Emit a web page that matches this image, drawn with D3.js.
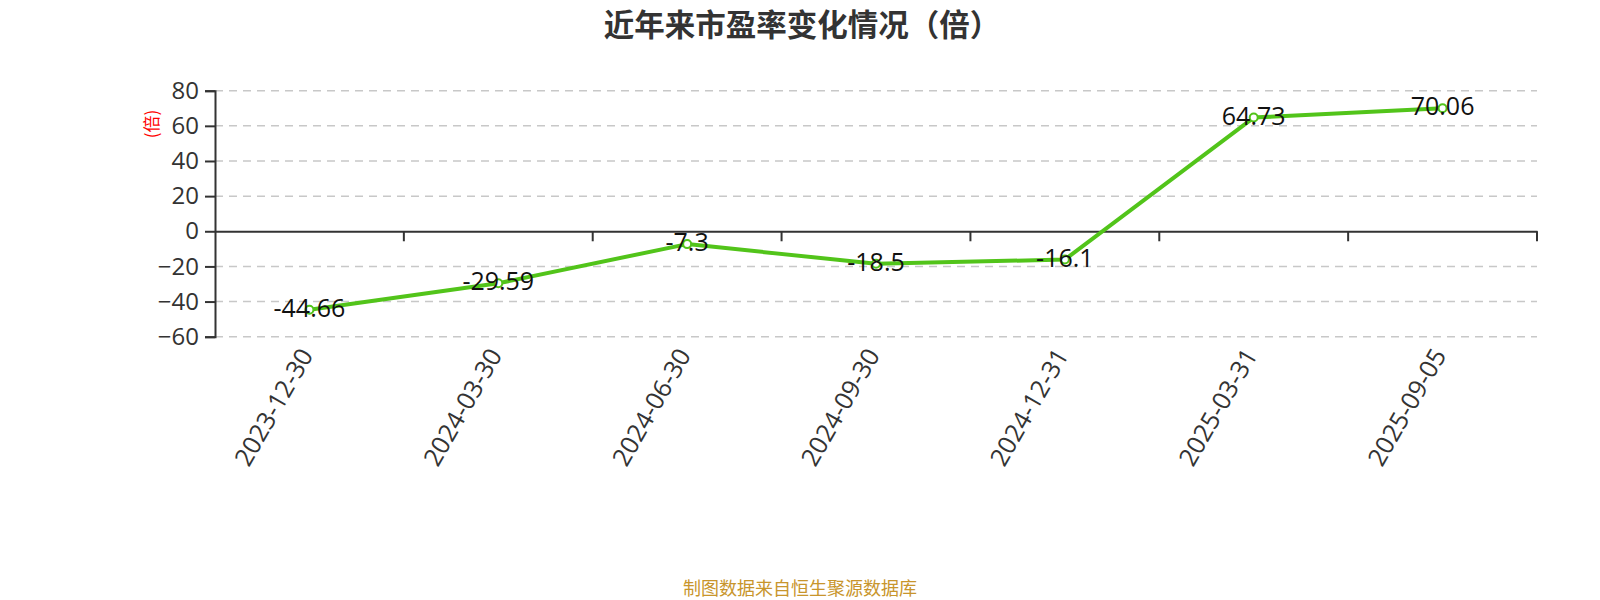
<!DOCTYPE html>
<html>
<head>
<meta charset="utf-8">
<script src="https://cdn.jsdelivr.net/npm/d3@7/dist/d3.min.js"></script>
<style>
  html, body { margin: 0; padding: 0; background: #fff; }
  svg { display: block; font-family: "Noto Sans", "Noto Sans CJK SC", sans-serif; }
</style>
</head>
<body>
<svg id="chart" width="1600" height="600"></svg>
<script>
const categories = ["2023-12-30", "2024-03-30", "2024-06-30", "2024-09-30", "2024-12-31", "2025-03-31", "2025-09-05"];
const peValues = [-44.66, -29.59, -7.3, -18.5, -16.1, 64.73, 70.06];
const peLabels = ["-44.66", "-29.59", "-7.3", "-18.5", "-16.1", "64.73", "70.06"];
const yTicks = [-60, -40, -20, 0, 20, 40, 60, 80];
const titleText = "近年来市盈率变化情况（倍）";
const yAxisName = "(倍)";
const footerText = "制图数据来自恒生聚源数据库";

const svg = d3.select("#chart");
const plotLeft = 215, plotRight = 1537, plotTop = 90.7, plotBottom = 336.7;

const x = d3.scaleBand().domain(categories).range([plotLeft, plotRight]);
const y = d3.scaleLinear().domain([-60, 80]).range([plotBottom, plotTop]);

// title
svg.append("text")
  .attr("x", 802).attr("y", 23)
  .attr("text-anchor", "middle").attr("dominant-baseline", "central")
  .attr("font-size", 30.5).attr("font-weight", "bold").attr("fill", "#333")
  .attr("font-family", "'Noto Sans CJK SC', sans-serif")
  .text(titleText);

// grid lines
svg.append("g").selectAll("line")
  .data(yTicks.filter(d => d !== 0))
  .join("line")
  .attr("x1", plotLeft).attr("x2", plotRight)
  .attr("y1", d => y(d)).attr("y2", d => y(d))
  .attr("stroke", "#c8c8c8").attr("stroke-width", 1.5)
  .attr("stroke-dasharray", "8,6");

// y axis
const yAxis = d3.axisLeft(y).tickValues(yTicks).tickSize(10).tickPadding(6).tickFormat(d3.format("d"));
const gy = svg.append("g").attr("transform", `translate(${plotLeft},0)`).call(yAxis);
gy.select(".domain").attr("stroke", "#333").attr("stroke-width", 2);
gy.selectAll(".tick line").attr("stroke", "#333").attr("stroke-width", 2);
gy.selectAll(".tick text").attr("font-size", 24).attr("fill", "#333")
  .attr("font-family", "'Open Sans', sans-serif");

// x axis at zero
const xAxis = d3.axisBottom(x).tickSize(0).tickFormat("");
const gx = svg.append("g").attr("transform", `translate(0,${y(0)})`).call(xAxis);
gx.select(".domain").attr("stroke", "#333").attr("stroke-width", 2);
// band boundary ticks
const boundaries = categories.slice(1).map(c => x(c)).concat([plotRight]);
svg.append("g").selectAll("line").data(boundaries).join("line")
  .attr("x1", d => d).attr("x2", d => d)
  .attr("y1", y(0)).attr("y2", y(0) + 10)
  .attr("stroke", "#333").attr("stroke-width", 2);

// x labels below chart bottom
svg.append("g").selectAll("text").data(categories).join("text")
  .attr("transform", d => `translate(${x(d) + x.bandwidth() / 2 - 3},${plotBottom + 14}) rotate(-60)`)
  .attr("text-anchor", "end").attr("dy", "0.35em")
  .attr("font-size", 25).attr("fill", "#333")
  .attr("font-family", "'Open Sans', sans-serif")
  .text(d => d);

// y axis name
svg.append("text")
  .attr("transform", `translate(150,124) rotate(-90)`)
  .attr("text-anchor", "middle").attr("dominant-baseline", "central")
  .attr("font-size", 17).attr("fill", "#ff0000")
  .attr("font-family", "'Noto Sans CJK SC', sans-serif")
  .text(yAxisName);

// line
const cx = d => x(d) + x.bandwidth() / 2;
const line = d3.line().x((d, i) => cx(categories[i])).y(d => y(d));
svg.append("path").datum(peValues)
  .attr("d", line).attr("fill", "none")
  .attr("stroke", "#52c41a").attr("stroke-width", 4)
  .attr("stroke-linejoin", "round");

svg.append("g").selectAll("circle").data(peValues).join("circle")
  .attr("cx", (d, i) => cx(categories[i])).attr("cy", d => y(d))
  .attr("r", 4).attr("fill", "#fff").attr("stroke", "#52c41a").attr("stroke-width", 2);

// data labels
svg.append("g").selectAll("text").data(peValues).join("text")
  .attr("x", (d, i) => cx(categories[i])).attr("y", d => y(d) - 3)
  .attr("text-anchor", "middle").attr("dominant-baseline", "central")
  .attr("font-size", 25).attr("fill", "#111")
  .attr("font-family", "'Open Sans', sans-serif")
  .text((d, i) => peLabels[i]);

// footer
svg.append("text")
  .attr("x", 800).attr("y", 587)
  .attr("text-anchor", "middle").attr("dominant-baseline", "central")
  .attr("font-size", 18).attr("fill", "#c8952c")
  .attr("font-family", "'Noto Sans CJK SC', sans-serif")
  .text(footerText);
</script>
</body>
</html>
